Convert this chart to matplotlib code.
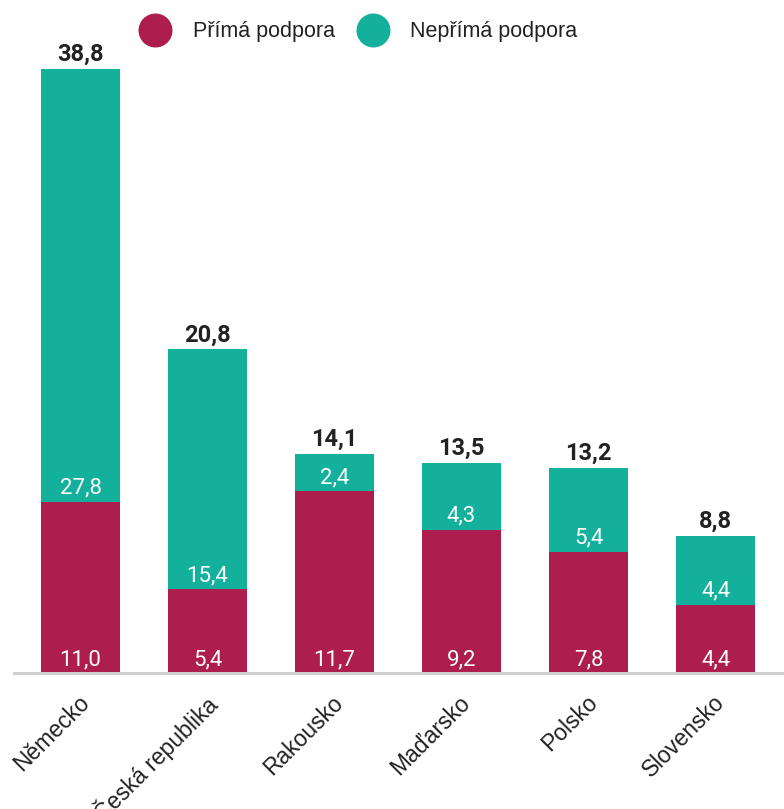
import numpy as np
import matplotlib
matplotlib.use("Agg")
import matplotlib.pyplot as plt
from matplotlib import transforms

countries = ["Německo", "Česká republika", "Rakousko", "Maďarsko", "Polsko", "Slovensko"]
prima = [11.0, 5.4, 11.7, 9.2, 7.8, 4.4]
neprima = [27.8, 15.4, 2.4, 4.3, 5.4, 4.4]
totals = [38.8, 20.8, 14.1, 13.5, 13.2, 8.8]
series_names = ["Přímá podpora", "Nepřímá podpora"]

red = "#AD1D4E"
teal = "#13B19C"

def fmt(v):
    return f"{v:.1f}".replace(".", ",")

W, H = 784, 809
fig = plt.figure(figsize=(W / 100, H / 100), dpi=100)
ax = fig.add_axes([14 / W, 136 / H, 770 / W, 623 / H])

x = np.arange(len(countries))
w = 79 / 127
ax.bar(x, prima, w, color=red)
ax.bar(x, neprima, w, bottom=prima, color=teal)

ax.set_xlim(-0.524, 5.539)
ax.set_ylim(0, 623 / 15.56)

off = transforms.offset_copy(ax.transData, fig=fig, x=0, y=8, units="dots")
for i in range(len(countries)):
    ax.text(x[i], 0, fmt(prima[i]), transform=off, ha="center", va="baseline",
            color="white", fontsize=16, family="Roboto")
    ax.text(x[i], prima[i], fmt(neprima[i]), transform=off, ha="center", va="baseline",
            color="white", fontsize=16, family="Roboto")
    ax.text(x[i], totals[i], fmt(totals[i]), transform=off, ha="center", va="baseline",
            color="#222222", fontsize=17, family="Roboto", fontweight="bold")

for s in ["top", "right", "left"]:
    ax.spines[s].set_visible(False)
ax.spines["bottom"].set_color("#d0d0d0")
ax.spines["bottom"].set_linewidth(2.2)
ax.set_yticks([])
ax.set_xticks(x)
ax.set_xticklabels(countries, rotation=45, ha="right", va="top", rotation_mode="anchor",
                   fontsize=16.5, family="Liberation Sans", color="#222222")
ax.tick_params(axis="x", length=0, pad=13)
for lbl in ax.get_xticklabels():
    lbl.set_transform(lbl.get_transform() + transforms.ScaledTranslation(-3 / 100, 0, fig.dpi_scale_trans))

# legend drawn in pixel coordinates
lg = fig.add_axes([0, 0, 1, 1], facecolor="none")
lg.set_xlim(0, W)
lg.set_ylim(H, 0)
lg.axis("off")
for cx, tx, col, name in [(155, 193, red, series_names[0]), (373, 410, teal, series_names[1])]:
    lg.scatter([cx], [30], s=(34 * 0.72) ** 2, color=col, linewidths=0)
    lg.text(tx, 31, name, ha="left", va="center", fontsize=15.5,
            family="Liberation Sans", color="#222222")

fig.savefig("out.png", dpi=100)
